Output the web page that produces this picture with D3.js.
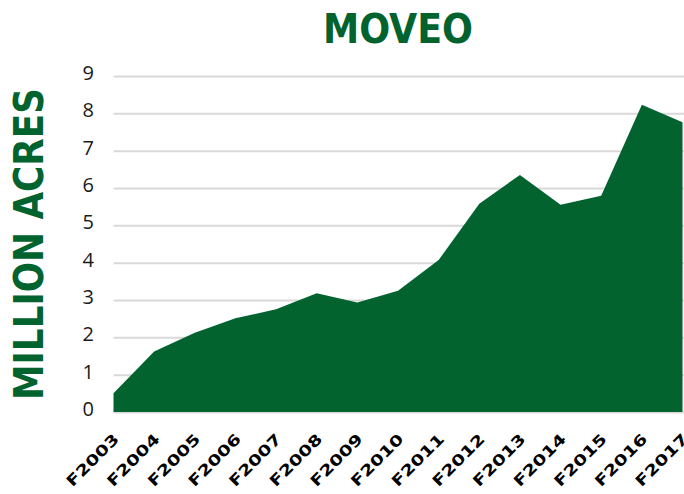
<!DOCTYPE html>
<html lang="en">
    <head>
        <meta charset="utf-8">
        <title>MOVEO</title>
        <script src="https://d3js.org/d3.v7.min.js"></script>
        <style type="text/css">
            body { margin: 0; background: #fff; }
            svg { display: block; }
        </style>
    </head>
    <body>
        <script type="text/javascript">

            //consts
            const w = 684;
            const h = 494;
            const green = "#03632f";

            //data
            const years = ["F2003", "F2004", "F2005", "F2006", "F2007", "F2008", "F2009", "F2010",
                           "F2011", "F2012", "F2013", "F2014", "F2015", "F2016", "F2017"];
            const acres = [0.5, 1.62, 2.12, 2.51, 2.75, 3.18, 2.93, 3.25,
                           4.07, 5.58, 6.35, 5.55, 5.79, 8.23, 7.76];
            const yTicks = [0, 1, 2, 3, 4, 5, 6, 7, 8, 9];

            //scales
            const xScale = d3.scalePoint()
                             .domain(years)
                             .range([113.5, 682.5]);

            const yScale = d3.scaleLinear()
                             .domain([0, 9])
                             .range([412, 76]);

            //SVG
            const svg = d3.select("body")
                          .append("svg")
                          .attr("width", w)
                          .attr("height", h);

            //gridlines
            svg.append("g")
               .selectAll("line")
               .data(yTicks)
               .enter()
               .append("line")
               .attr("x1", 113.5)
               .attr("x2", w)
               .attr("y1", d => yScale(d) + 0.5)
               .attr("y2", d => yScale(d) + 0.5)
               .attr("stroke", "#d9d9d9")
               .attr("stroke-width", 2);

            //area
            const area = d3.area()
                           .x((d, i) => xScale(years[i]))
                           .y0(yScale(0))
                           .y1(d => yScale(d));

            svg.append("path")
               .datum(acres)
               .attr("d", area)
               .attr("fill", green);

            //left axis labels
            const leftAxis = d3.axisLeft(yScale)
                               .tickValues(yTicks)
                               .tickSize(0)
                               .tickPadding(0);

            const gy = svg.append("g")
                          .attr("transform", "translate(94,-3)")
                          .call(leftAxis);
            gy.select(".domain").remove();
            gy.selectAll("text")
              .attr("font-family", "'Open Sans', sans-serif")
              .attr("font-size", 20)
              .attr("fill", "#1a1a1a");

            //bottom axis labels
            const bottomAxis = d3.axisBottom(xScale)
                                 .tickSize(0);

            const gx = svg.append("g")
                          .attr("transform", "translate(0,412)")
                          .call(bottomAxis);
            gx.select(".domain").remove();
            gx.selectAll("text")
              .attr("font-family", "'DejaVu Sans', sans-serif")
              .attr("font-weight", "bold")
              .attr("font-size", 15)
              .attr("fill", "#000")
              .attr("text-anchor", "end")
              .attr("dy", null)
              .attr("y", 0)
              .attr("textLength", 67)
              .attr("lengthAdjust", "spacingAndGlyphs")
              .attr("transform", "translate(6,28) rotate(-45)");

            //title
            svg.append("text")
               .attr("x", 398)
               .attr("y", 43)
               .attr("text-anchor", "middle")
               .attr("font-family", "'DejaVu Sans Condensed', 'DejaVu Sans', sans-serif")
               .attr("font-weight", "bold")
               .attr("font-size", 41)
               .attr("textLength", 150)
               .attr("lengthAdjust", "spacingAndGlyphs")
               .attr("fill", green)
               .text("MOVEO");

            //y title
            svg.append("text")
               .attr("transform", "translate(43,244) rotate(-90)")
               .attr("text-anchor", "middle")
               .attr("font-family", "'DejaVu Sans Condensed', 'DejaVu Sans', sans-serif")
               .attr("font-weight", "bold")
               .attr("font-size", 40)
               .attr("textLength", 312)
               .attr("lengthAdjust", "spacingAndGlyphs")
               .attr("fill", green)
               .text("MILLION ACRES");

        </script>
    </body>
</html>
